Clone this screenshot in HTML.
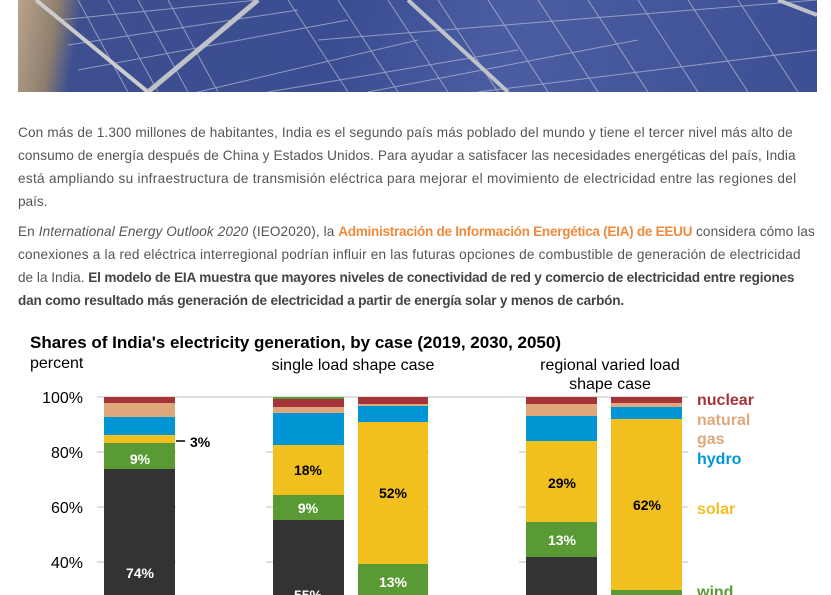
<!DOCTYPE html>
<html><head><meta charset="utf-8"><style>
body{margin:0;width:831px;height:595px;overflow:hidden;background:#fff;position:relative;font-family:"Liberation Sans",sans-serif}
.photo{position:absolute;left:18px;top:0;width:799px;height:92px;background:linear-gradient(100deg,#b9a48c 0,#8f7f6e 5%,#3d4f8f 8%,#3a4d93 40%,#4b5da2 60%,#3c4f95 100%);overflow:hidden}
.l{position:absolute;left:18px;white-space:nowrap;font-size:13.6px;line-height:23px;color:#555}
.l b{color:#444}
.chart{position:absolute;left:0;top:320px}
</style></head><body>
<div class="photo"><svg width="799" height="92">
<g stroke="#c9cfdc" stroke-width="1" opacity=".6">
<path d="M60 0 L110 92 M90 0 L140 92 M120 0 L170 92 M150 0L200 92 M270 0L330 92 M320 0L380 92 M370 0L430 92M420 0L480 92M470 0L530 92M520 0L580 92M570 0L630 92M620 0L680 92M670 0L730 92M720 0L780 92"/>
<path d="M40 20L240 0M50 45L280 10M60 70L330 20M180 92L400 40M250 92L500 50M350 92L620 40M460 92L799 50M300 40L799 0"/>
</g>
<path d="M18 0L130 92" stroke="#ccc" stroke-width="4"/>
<path d="M240 0L130 92" stroke="#bfc3c8" stroke-width="5"/>
<path d="M390 0L490 92" stroke="#bfc3c8" stroke-width="4"/>
<path d="M760 0L799 15" stroke="#bfc3c8" stroke-width="4"/>
</svg></div>
<div class="l" style="top:121px;letter-spacing:0.15px">Con más de 1.300 millones de habitantes, India es el segundo país más poblado del mundo y tiene el tercer nivel más alto de</div>
<div class="l" style="top:144px;letter-spacing:0.1px">consumo de energía después de China y Estados Unidos. Para ayudar a satisfacer las necesidades energéticas del país, India</div>
<div class="l" style="top:167px;letter-spacing:0.3px">está ampliando su infraestructura de transmisión eléctrica para mejorar el movimiento de electricidad entre las regiones del</div>
<div class="l" style="top:190px">país.</div>
<div class="l" style="top:220px;letter-spacing:0.1px">En <i>International Energy Outlook 2020</i> (IEO2020), la <b style="color:#f08a3c;letter-spacing:-0.3px">Administración de Información Energética (EIA) de EEUU</b> considera cómo las</div>
<div class="l" style="top:243px;letter-spacing:0.2px">conexiones a la red eléctrica interregional podrían influir en las futuras opciones de combustible de generación de electricidad</div>
<div class="l" style="top:266px">de la India. <b style="letter-spacing:-0.2px">El modelo de EIA muestra que mayores niveles de conectividad de red y comercio de electricidad entre regiones</b></div>
<div class="l" style="top:289px"><b style="letter-spacing:-0.2px">dan como resultado más generación de electricidad a partir de energía solar y menos de carbón.</b></div>
<svg class="chart" width="831" height="275" style="font-family:'Liberation Sans',sans-serif">
<g transform="translate(0,-320)">
<text x="30" y="348" font-size="17" font-weight="bold" fill="#000" textLength="531">Shares of India's electricity generation, by case (2019, 2030, 2050)</text>
<text x="30" y="368" font-size="16" fill="#000">percent</text>
<text x="353" y="370" font-size="16" text-anchor="middle">single load shape case</text>
<text x="610" y="370" font-size="16" text-anchor="middle">regional varied load</text>
<text x="610" y="389" font-size="16" text-anchor="middle">shape case</text>
<g font-size="16" text-anchor="end" fill="#000"><text x="83" y="403">100%</text><text x="83" y="458">80%</text><text x="83" y="513">60%</text><text x="83" y="568">40%</text></g>
<g stroke="#ccc" stroke-width="1.2"><line x1="97" y1="397" x2="688" y2="397"/><line x1="97" y1="452" x2="688" y2="452"/><line x1="97" y1="507" x2="688" y2="507"/><line x1="97" y1="562" x2="688" y2="562"/></g>
<rect x="104" y="397" width="71" height="6" fill="#a4343a"/><rect x="104" y="403" width="71" height="14" fill="#e0a87a"/><rect x="104" y="417" width="71" height="18" fill="#0096d6"/><rect x="104" y="435" width="71" height="8" fill="#f2c01e"/><rect x="104" y="443" width="71" height="26" fill="#5a9a35"/><rect x="104" y="469" width="71" height="130" fill="#333"/>
<rect x="176" y="398" width="90" height="200" fill="#fff"/>
<line x1="176" y1="441" x2="185" y2="441" stroke="#000" stroke-width="1.5"/>
<text x="190" y="447" font-size="14" font-weight="bold">3%</text>
<rect x="273" y="397" width="71" height="2" fill="#5a9a35"/><rect x="273" y="399" width="71" height="8" fill="#a4343a"/><rect x="273" y="407" width="71" height="6" fill="#e0a87a"/><rect x="273" y="413" width="71" height="32" fill="#0096d6"/><rect x="273" y="445" width="71" height="50" fill="#f2c01e"/><rect x="273" y="495" width="71" height="25" fill="#5a9a35"/><rect x="273" y="520" width="71" height="80" fill="#333"/>
<rect x="344" y="398" width="14" height="200" fill="#fff"/>
<rect x="358" y="397" width="70" height="7" fill="#a4343a"/><rect x="358" y="404" width="70" height="2" fill="#e0a87a"/><rect x="358" y="406" width="70" height="16" fill="#0096d6"/><rect x="358" y="422" width="70" height="142" fill="#f2c01e"/><rect x="358" y="564" width="70" height="36" fill="#5a9a35"/>
<rect x="429" y="398" width="90" height="200" fill="#fff"/>
<rect x="526" y="397" width="71" height="7" fill="#a4343a"/><rect x="526" y="404" width="71" height="12" fill="#e0a87a"/><rect x="526" y="416" width="71" height="25" fill="#0096d6"/><rect x="526" y="441" width="71" height="81" fill="#f2c01e"/><rect x="526" y="522" width="71" height="35" fill="#5a9a35"/><rect x="526" y="557" width="71" height="43" fill="#333"/>
<rect x="597" y="398" width="14" height="200" fill="#fff"/>
<rect x="611" y="397" width="71" height="6" fill="#a4343a"/><rect x="611" y="403" width="71" height="4" fill="#e0a87a"/><rect x="611" y="407" width="71" height="12" fill="#0096d6"/><rect x="611" y="419" width="71" height="171" fill="#f2c01e"/><rect x="611" y="590" width="71" height="10" fill="#5a9a35"/>
<g font-size="14" font-weight="bold" text-anchor="middle">
<text x="140" y="464" fill="#fff">9%</text><text x="140" y="578" fill="#fff">74%</text>
<text x="308" y="475">18%</text><text x="308" y="513" fill="#fff">9%</text><text x="308" y="600" fill="#fff">55%</text>
<text x="393" y="498">52%</text><text x="393" y="587" fill="#fff">13%</text>
<text x="562" y="488">29%</text><text x="562" y="545" fill="#fff">13%</text>
<text x="647" y="510">62%</text>
</g>
<g font-size="16" font-weight="bold">
<text x="697" y="405" fill="#a4343a">nuclear</text><text x="697" y="425" fill="#e0a87a">natural</text><text x="697" y="444" fill="#e0a87a">gas</text><text x="697" y="464" fill="#0096d6">hydro</text><text x="697" y="514" fill="#f2c01e">solar</text><text x="697" y="597" fill="#5a9a35">wind</text>
</g>
</g>
</svg>
</body></html>
